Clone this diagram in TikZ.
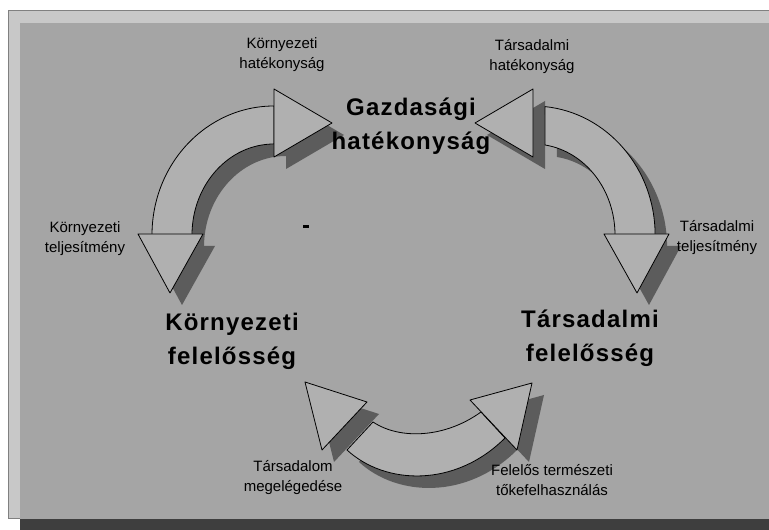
\documentclass[tikz,border=0pt]{standalone}
\usepackage{fontspec}
\setmainfont{Liberation Sans}
\newfontfamily\headfont[LetterSpace=5]{Liberation Sans}
\usetikzlibrary{positioning}

\definecolor{panelgray}{HTML}{A5A5A5}
\definecolor{rimgray}{HTML}{C8C8C8}
\definecolor{arrowgray}{HTML}{B0B0B0}
\definecolor{shadowgray}{HTML}{5C5C5C}
\definecolor{dropgray}{HTML}{3E3E3E}

\begin{document}
\begin{tikzpicture}[
  x=1pt, y=1pt,
  head/.style={font=\headfont\bfseries\fontsize{24}{34}\selectfont, align=center, inner sep=0pt},
  note/.style={font=\fontsize{15}{20}\selectfont, align=center, inner sep=0pt},
  band/.style={draw=black, line width=0.8pt, fill=arrowgray, line join=round},
  shade/.style={fill=shadowgray}
]
\useasboundingbox (0,0) rectangle (769,530);

% panel and its drop shadow
\fill[white] (0,0) rectangle (769,530);
\fill[dropgray] (20,0) rectangle (769,11);
\filldraw[fill=rimgray, draw=gray, line width=1pt] (8,11) rectangle (775,519);
\fill[panelgray] (20,11) rectangle (769,507);

% curved arrows, shadow pass first
\foreach \dx/\dy/\sty in {12/-12/shade, 0/0/band} {
  \begin{scope}[shift={(\dx,\dy)}]
    % left arc
    \path[\sty] (274,424) arc[start angle=90, end angle=180, x radius=122, y radius=129]
      -- (192,295) arc[start angle=180, end angle=90, x radius=82, y radius=91] -- cycle;
    \path[\sty] (274,441) -- (332,407) -- (274,373) -- cycle;
    \path[\sty] (138,296) -- (170,237) -- (203,296) -- cycle;
    % right arc
    \path[\sty] (545,423.4) arc[start angle=84.4, end angle=0, x radius=122, y radius=129]
      -- (615,295) arc[start angle=0, end angle=81.6, x radius=82, y radius=91] -- cycle;
    \path[\sty] (533,441) -- (475,407) -- (533,373) -- cycle;
    \path[\sty] (604,296) -- (637,237) -- (669,296) -- cycle;
    % bottom arc
    \path[\sty] (347,80) .. controls (385,45) and (455,42) .. (505,92)
      -- (481,118) .. controls (445,92) and (400,90) .. (373,108) -- cycle;
    \path[\sty] (305,148) -- (367,128) -- (322,80) -- cycle;
    \path[\sty] (532,147) -- (470,130) -- (517,80) -- cycle;
  \end{scope}
}

\fill (303,302) rectangle (309,305);

% main labels
\node[head] (gazd) at (411,404) {Gazdasági\\hatékonyság};
\node[head] (kfel) at (232,189) {Környezeti\\felelősség};
\node[head] (tfel) at (590,192) {Társadalmi\\felelősség};

% arrow labels
\node[note] (khat) at (282,475) {Környezeti\\hatékonyság};
\node[note] (that) at (532,473) {Társadalmi\\hatékonyság};
\node[note] (ktel) at (85,291) {Környezeti\\teljesítmény};
\node[note] (ttel) at (717,292) {Társadalmi\\teljesítmény};
\node[note] (tmeg) at (293,52) {Társadalom\\megelégedése};
\node[note] (ftok) at (552,50) {Felelős természeti\\tőkefelhasználás};
\end{tikzpicture}
\end{document}
